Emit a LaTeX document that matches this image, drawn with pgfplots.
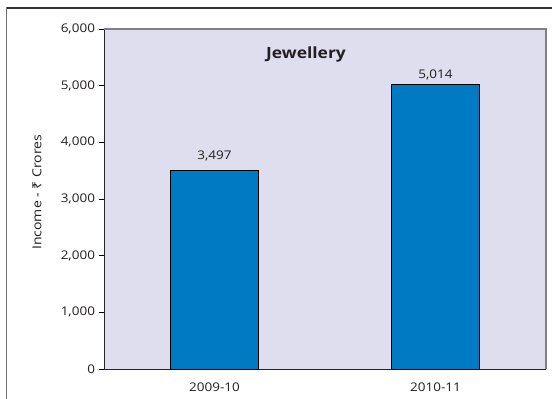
\documentclass[border=0pt]{standalone}
\usepackage{pgfplots}
\pgfplotsset{compat=1.18}
\usepackage{fontspec}
\setmainfont{Open Sans}[FakeStretch=1.13]
\newfontfamily\rupeefont{Noto Sans}[FakeStretch=1.13]
\definecolor{bg}{RGB}{222,222,238}
\definecolor{barblue}{RGB}{0,122,194}
\definecolor{txt}{RGB}{35,31,32}
\begin{document}
\begin{tikzpicture}
\useasboundingbox (0,0) rectangle (552bp,399bp);
\draw[line width=1.2bp, black!80] (552bp,391bp) -- (6.5bp,391bp);
\draw[line width=1.6bp, black!55] (6.5bp,391.6bp) -- (6.5bp,0);
\begin{axis}[
  at={(104bp,30bp)}, anchor=south west,
  scale only axis, width=442bp, height=340bp,
  xmin=-0.5, xmax=1.5, ymin=0, ymax=6000,
  axis background/.style={fill=bg},
  axis x line=bottom, axis y line=left,
  axis line style={-, line width=1bp, black!85},
  ybar, bar width=88bp,
  ytick={0,1000,...,6000},
  /pgf/number format/.cd, 1000 sep={,}, assume math mode=true, /pgfplots/.cd,
  tick align=outside, major tick length=4.5bp,
  tick style={line width=0.8bp, black},
  xtick={0,1}, xticklabels={2009-10,2010-11},
  xtick style={draw=none},
  extra x ticks={-0.5,0.5,1.5}, extra x tick labels={},
  extra x tick style={tick style={draw=black, line width=0.8bp}, major tick length=5bp},
  tick label style={font=\fontsize{12}{14}\selectfont, text=txt},
  xticklabel style={yshift=-6bp},
  yticklabel style={xshift=-1bp},
  clip=false,
]
\addplot[fill=barblue, draw=black, line width=0.8bp] coordinates {(0,3497) (1,5014)};
\draw[line width=1.2bp, black!50] (rel axis cs:0,1) -- (rel axis cs:1,1) -- (rel axis cs:1,0);
\node[font=\fontsize{12}{14}\selectfont, text=txt, anchor=south] at (axis cs:0,3497) [yshift=6.5bp] {3,497};
\node[font=\fontsize{12}{14}\selectfont, text=txt, anchor=south] at (axis cs:1,5014) [yshift=1.5bp] {5,014};
\node[font=\bfseries\fontsize{15.5}{18}\selectfont, text=txt] at (axis description cs:0.457,0.926) {Jewellery};
\node[font=\fontsize{12.5}{14}\selectfont, text=txt, rotate=90] at (axis description cs:-0.1516,0.52) {Income - {\rupeefont ₹} Crores};
\end{axis}
\end{tikzpicture}
\end{document}
